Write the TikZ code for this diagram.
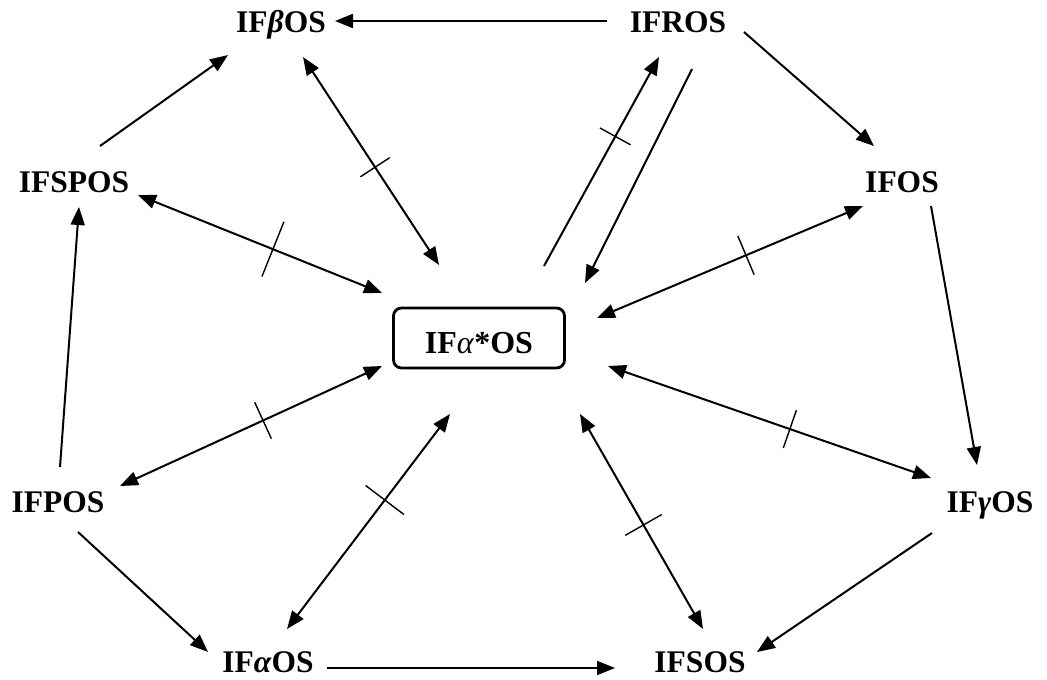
\documentclass[tikz,border=0pt]{standalone}
\usepackage{fontspec}
\setmainfont{Liberation Serif}
\usetikzlibrary{arrows.meta,decorations.markings,calc}
\begin{document}
\begin{tikzpicture}[x=1pt,y=-1pt,
  lbl/.style={font=\fontsize{31.5}{36}\selectfont\bfseries, inner sep=0pt, anchor=base},
  conn/.style={line width=2pt, -{Triangle[length=18pt,width=14pt]}},
  dconn/.style={line width=2pt, {Triangle[length=18pt,width=14pt]}-{Triangle[length=18pt,width=14pt]}},
  tickat/.style 2 args={postaction={decorate,decoration={markings,mark=at position #1 with {\draw[line width=1.4pt,-] (0,-#2/2) -- (0,#2/2);}}}}
]
\useasboundingbox (0,0) rectangle (1047,680);

\node[lbl] (beta)  at (281,32)  {IF\textit{β}OS};
\node[lbl] (ros)   at (678,32)  {IFROS};
\node[lbl] (fos)   at (902,192) {IFOS};
\node[lbl] (spos)  at (74,192)  {IFSPOS};
\node[lbl] (pos)   at (58,512)  {IFPOS};
\node[lbl] (gamma) at (990,512) {IF\textit{γ}OS};
\node[lbl] (alpha) at (268,672) {IF\textit{α}OS};
\node[lbl] (sos)   at (700,672) {IFSOS};
\node[draw, line width=2.8pt, rounded corners=8pt, minimum width=171pt, minimum height=60pt,
      font=\fontsize{32}{36}\selectfont\bfseries, text height=30pt, text depth=0pt, inner sep=0pt]
      (c) at (479,338) {IF\textit{\mdseries α}*OS};

% outer cycle
\draw[conn] ([shift={(-71,-11)}]ros.base) -- ([shift={(54,-11)}]beta.base);
\draw[conn] ([shift={(66,0)}]ros.base) -- ([shift={(-28,-46)}]fos.base);
\draw[conn] ([shift={(29,14)}]fos.base) -- ([shift={(-13,-47)}]gamma.base);
\draw[conn] ([shift={(-58,21)}]gamma.base) -- ([shift={(57,-20)}]sos.base);
\draw[conn] ([shift={(59,-4)}]alpha.base) -- ([shift={(-85,-4)}]sos.base);
\draw[conn] ([shift={(20,20)}]pos.base) -- ([shift={(-60,-20)}]alpha.base);
\draw[conn] ([shift={(2,-45)}]pos.base) -- ([shift={(5,15)}]spos.base);
\draw[conn] ([shift={(26,-46)}]spos.base) -- ([shift={(-53,23)}]beta.base);

% spokes
\draw[dconn, tickat={0.53}{35}] ([shift={(22,25)}]beta.base) -- ([shift={(-40,-73)}]c.center);
\draw[dconn, tickat={0.553}{59}] ([shift={(64,3)}]spos.base) -- ([shift={(-97,-45)}]c.center);
\draw[conn, tickat={0.62}{35}] ([shift={(65,-72)}]c.center) -- ([shift={(-19,25)}]ros.base);
\draw[conn] ([shift={(14,37)}]ros.base) -- ([shift={(106,-55)}]c.center);
\draw[dconn, tickat={0.44}{42}] ([shift={(-39,14)}]fos.base) -- ([shift={(118,-20)}]c.center);
\draw[dconn, tickat={0.437}{40}] ([shift={(-59,-34)}]gamma.base) -- ([shift={(129,28)}]c.center);
\draw[dconn, tickat={0.484}{42}] ([shift={(3,-43)}]sos.base) -- ([shift={(101,76)}]c.center);
\draw[dconn, tickat={0.6}{48}] ([shift={(19,-43)}]alpha.base) -- ([shift={(-29,76)}]c.center);
\draw[dconn, tickat={0.546}{40}] ([shift={(62,-26)}]pos.base) -- ([shift={(-97,28)}]c.center);
\end{tikzpicture}
\end{document}
